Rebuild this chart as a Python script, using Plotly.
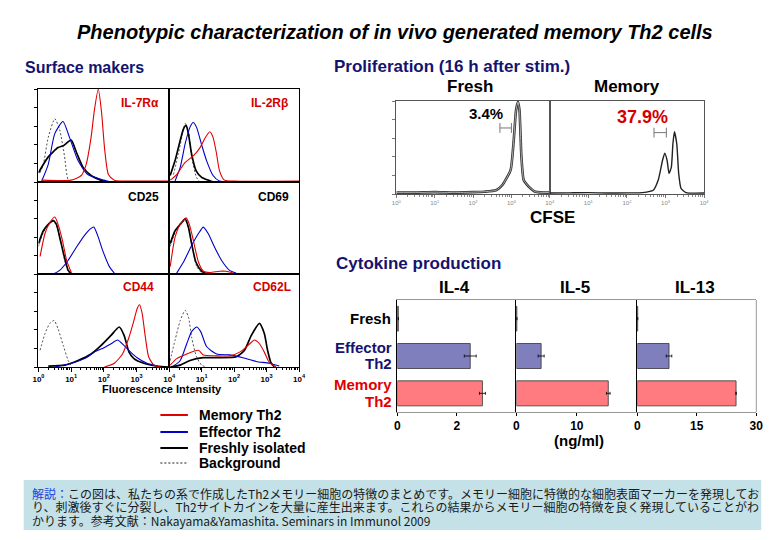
import numpy as np
import plotly.graph_objects as go

W, H = 780, 540
FONT = "Arial, Liberation Sans, Helvetica, sans-serif"
JP = "Noto Sans CJK JP, sans-serif"
NAVY = "#14146E"
RED_T = "#D40000"

# ---------------- Surface marker histograms (x = log10 fluorescence, y = relative count) ----------------
il7r_mem_x = [0.1, 1.0, 1.31, 1.46, 1.61, 1.71, 1.83, 1.93, 2.02, 2.14, 2.32, 3.0, 4.0]
il7r_mem_y = [0.02, 0.02, 0.07, 0.19, 0.48, 0.77, 1.0, 0.75, 0.37, 0.08, 0.02, 0.01, 0.01]
il7r_eff_x = [0.10, 0.30, 0.50, 0.75, 0.95, 1.21, 1.51, 2.0, 2.2]
il7r_eff_y = [0.01, 0.19, 0.52, 0.65, 0.48, 0.23, 0.08, 0.02, 0.0]
il7r_fre_x = [0.0, 0.30, 0.60, 0.76, 1.0, 1.16, 1.36, 1.61, 1.91, 2.1]
il7r_fre_y = [0.10, 0.27, 0.37, 0.39, 0.45, 0.32, 0.16, 0.07, 0.02, 0.0]
il7r_bg_x = [0.05, 0.15, 0.30, 0.50, 0.65, 0.80, 0.90, 1.0]
il7r_bg_y = [0.10, 0.19, 0.48, 0.68, 0.56, 0.27, 0.03, 0.0]

il2r_mem_x = [0.03, 0.23, 0.49, 0.74, 0.95, 1.10, 1.25, 1.35, 1.45, 1.55, 1.70, 2.0, 4.0]
il2r_mem_y = [0.02, 0.08, 0.21, 0.28, 0.37, 0.47, 0.54, 0.48, 0.32, 0.12, 0.02, 0.01, 0.01]
il2r_eff_x = [0.18, 0.34, 0.49, 0.64, 0.74, 0.84, 0.99, 1.15, 1.35, 1.55, 1.75]
il2r_eff_y = [0.01, 0.16, 0.41, 0.59, 0.64, 0.59, 0.41, 0.23, 0.07, 0.01, 0.0]
il2r_fre_x = [0.03, 0.18, 0.34, 0.44, 0.52, 0.59, 0.69, 0.83, 1.0, 1.2, 1.35]
il2r_fre_y = [0.07, 0.23, 0.45, 0.57, 0.61, 0.52, 0.30, 0.12, 0.05, 0.02, 0.0]
il2r_bg_x = [0.13, 0.28, 0.44, 0.49, 0.59, 0.69, 0.84, 0.95]
il2r_bg_y = [0.08, 0.30, 0.57, 0.63, 0.55, 0.27, 0.05, 0.0]

cd25_mem_x = [0.05, 0.20, 0.35, 0.50, 0.60, 0.73, 0.86, 1.01]
cd25_mem_y = [0.19, 0.44, 0.56, 0.62, 0.54, 0.37, 0.15, 0.01]
cd25_eff_x = [0.45, 0.65, 0.91, 1.16, 1.41, 1.59, 1.69, 1.81, 1.96, 2.17, 2.32]
cd25_eff_y = [0.0, 0.04, 0.15, 0.29, 0.42, 0.49, 0.51, 0.42, 0.26, 0.08, 0.01]
cd25_fre_x = [0.0, 0.15, 0.30, 0.45, 0.55, 0.65, 0.79, 0.91, 1.01]
cd25_fre_y = [0.33, 0.47, 0.54, 0.58, 0.54, 0.40, 0.19, 0.04, 0.0]
cd25_bg_x = [0.0, 0.15, 0.32, 0.47, 0.58, 0.68, 0.80, 0.92, 1.0]
cd25_bg_y = [0.30, 0.45, 0.55, 0.57, 0.50, 0.35, 0.15, 0.02, 0.0]

cd69_mem_x = [0.03, 0.18, 0.34, 0.52, 0.62, 0.74, 0.90, 1.05, 1.25, 1.55, 1.75, 1.96]
cd69_mem_y = [0.08, 0.40, 0.54, 0.61, 0.54, 0.37, 0.13, 0.03, 0.015, 0.03, 0.03, 0.01]
cd69_eff_x = [0.23, 0.44, 0.69, 0.90, 1.05, 1.20, 1.40, 1.61, 1.86, 2.06]
cd69_eff_y = [0.01, 0.13, 0.31, 0.44, 0.51, 0.44, 0.29, 0.15, 0.04, 0.01]
cd69_fre_x = [0.03, 0.18, 0.34, 0.49, 0.59, 0.69, 0.82, 1.0, 1.15]
cd69_fre_y = [0.33, 0.47, 0.54, 0.60, 0.51, 0.33, 0.13, 0.03, 0.0]
cd69_bg_x = [0.03, 0.20, 0.36, 0.50, 0.60, 0.72, 0.85, 1.0]
cd69_bg_y = [0.30, 0.47, 0.56, 0.58, 0.48, 0.28, 0.08, 0.01]

cd44_mem_x = [2.02, 2.32, 2.57, 2.77, 2.92, 3.02, 3.09, 3.17, 3.27, 3.37, 3.53, 3.73]
cd44_mem_y = [0.0, 0.04, 0.14, 0.32, 0.50, 0.63, 0.67, 0.58, 0.32, 0.11, 0.02, 0.0]
cd44_eff_x = [0.50, 1.01, 1.41, 1.71, 2.02, 2.22, 2.42, 2.62, 2.82, 3.02, 3.32, 3.63]
cd44_eff_y = [0.0, 0.04, 0.09, 0.16, 0.21, 0.25, 0.29, 0.23, 0.16, 0.10, 0.04, 0.01]
cd44_fre_x = [0.30, 0.81, 1.21, 1.61, 1.91, 2.22, 2.47, 2.62, 2.77, 2.92, 3.22, 3.63, 4.0]
cd44_fre_y = [0.01, 0.02, 0.07, 0.14, 0.23, 0.34, 0.43, 0.34, 0.16, 0.09, 0.04, 0.01, 0.0]
cd44_bg_x = [0.05, 0.20, 0.35, 0.48, 0.60, 0.76, 0.91, 1.01]
cd44_bg_y = [0.18, 0.36, 0.47, 0.50, 0.41, 0.23, 0.07, 0.01]

cd62l_mem_x = [0.03, 0.23, 0.54, 0.90, 1.05, 1.46, 1.87, 2.17, 2.42, 2.63, 2.78, 2.93, 3.08, 3.29]
cd62l_mem_y = [0.02, 0.09, 0.14, 0.18, 0.13, 0.12, 0.12, 0.16, 0.23, 0.29, 0.25, 0.16, 0.05, 0.0]
cd62l_eff_x = [0.13, 0.34, 0.54, 0.69, 0.84, 0.97, 1.15, 1.46, 1.87, 2.27, 2.68, 3.08, 3.39]
cd62l_eff_y = [0.01, 0.07, 0.25, 0.38, 0.43, 0.38, 0.22, 0.14, 0.13, 0.10, 0.06, 0.04, 0.01]
cd62l_fre_x = [0.03, 0.34, 0.64, 1.05, 1.56, 2.07, 2.32, 2.53, 2.78, 2.93, 3.03, 3.13, 3.24]
cd62l_fre_y = [0.0, 0.02, 0.07, 0.10, 0.10, 0.11, 0.18, 0.34, 0.47, 0.36, 0.18, 0.05, 0.0]
cd62l_bg_x = [0.03, 0.18, 0.34, 0.49, 0.59, 0.69, 0.84, 1.0, 1.15]
cd62l_bg_y = [0.07, 0.29, 0.50, 0.61, 0.54, 0.32, 0.11, 0.02, 0.0]

marker_labels = ["IL-7Rα", "IL-2Rβ", "CD25", "CD69", "CD44", "CD62L"]
series_names = ["Memory Th2", "Effector Th2", "Freshly isolated", "Background"]

# ---------------- CFSE proliferation ----------------
cfse_fresh_x = [0.0, 0.5, 1.0, 1.5, 2.0, 2.3, 2.6, 2.77, 2.98, 3.06, 3.12, 3.17, 3.21, 3.26, 3.32, 3.45, 3.62, 4.0]
cfse_fresh_y = [0.015, 0.015, 0.02, 0.015, 0.02, 0.025, 0.04, 0.10, 0.26, 0.58, 0.90, 0.99, 0.90, 0.40, 0.15, 0.08, 0.025, 0.015]
cfse_mem_x = [0.0, 0.5, 1.0, 1.5, 2.0, 2.4, 2.68, 2.81, 2.92, 2.98, 3.04, 3.09, 3.15, 3.19, 3.23, 3.29, 3.34, 3.40, 3.53, 4.0]
cfse_mem_y = [0.01, 0.012, 0.015, 0.01, 0.012, 0.015, 0.04, 0.15, 0.36, 0.44, 0.36, 0.22, 0.29, 0.54, 0.67, 0.54, 0.22, 0.06, 0.015, 0.01]
fresh_gate_x = [2.70, 3.00]
fresh_gate_y = [0.71, 0.71]
mem_gate_x = [2.70, 3.02]
mem_gate_y = [0.66, 0.66]
fresh_pct = "3.4%"
mem_pct = "37.9%"

# ---------------- Cytokine production (ng/ml) ----------------
cats = ["Fresh", "Effector Th2", "Memory Th2"]
il4_vals = [0.03, 2.45, 2.86]
il4_err = [0.0, 0.20, 0.10]
il5_vals = [0.08, 4.1, 15.2]
il5_err = [0.0, 0.5, 0.3]
il13_vals = [0.10, 8.0, 24.9]
il13_err = [0.0, 0.7, 0.0]
cyto_names = ["IL-4", "IL-5", "IL-13"]
cyto_ranges = [4, 20, 30]
cyto_ticks = [[0, 2], [0, 10], [0, 15, 30]]

# ---------------- helpers ----------------
def px(x):
    return x / W

def py(y):
    return 1 - y / H

layout = dict(width=W, height=H, margin=dict(l=0, r=0, t=0, b=0),
              paper_bgcolor="white", plot_bgcolor="rgba(0,0,0,0)", showlegend=False)
annotations = []
shapes = []
traces = []
count = [0]

def new_axes(x0, x1, y0, y1, xa, ya):
    count[0] += 1
    s = "" if count[0] == 1 else str(count[0])
    xa.update(domain=[px(x0), px(x1)], anchor="y" + s)
    ya.update(domain=[py(y1), py(y0)], anchor="x" + s)
    layout["xaxis" + s] = xa
    layout["yaxis" + s] = ya
    return "x" + s, "y" + s

def ann(text, x, y, size, color="black", xanchor="center", yanchor="middle",
        weight="bold", style="normal", family=FONT):
    annotations.append(dict(text=text, x=px(x), y=py(y), xref="paper", yref="paper",
                            xanchor=xanchor, yanchor=yanchor, showarrow=False, borderpad=0,
                            font=dict(size=size, color=color, family=family, weight=weight, style=style)))

MINOR = [n + np.log10(k) for n in range(4) for k in range(2, 10)]

# ---------------- flow histogram grid ----------------
COLS = [(33, 166), (166, 298)]
ROWS = [(89, 182), (182, 274), (274, 367)]
flow_curves = [
    [(il7r_mem_x, il7r_mem_y), (il7r_eff_x, il7r_eff_y), (il7r_fre_x, il7r_fre_y), (il7r_bg_x, il7r_bg_y)],
    [(il2r_mem_x, il2r_mem_y), (il2r_eff_x, il2r_eff_y), (il2r_fre_x, il2r_fre_y), (il2r_bg_x, il2r_bg_y)],
    [(cd25_mem_x, cd25_mem_y), (cd25_eff_x, cd25_eff_y), (cd25_fre_x, cd25_fre_y), (cd25_bg_x, cd25_bg_y)],
    [(cd69_mem_x, cd69_mem_y), (cd69_eff_x, cd69_eff_y), (cd69_fre_x, cd69_fre_y), (cd69_bg_x, cd69_bg_y)],
    [(cd44_mem_x, cd44_mem_y), (cd44_eff_x, cd44_eff_y), (cd44_fre_x, cd44_fre_y), (cd44_bg_x, cd44_bg_y)],
    [(cd62l_mem_x, cd62l_mem_y), (cd62l_eff_x, cd62l_eff_y), (cd62l_fre_x, cd62l_fre_y), (cd62l_bg_x, cd62l_bg_y)],
]
label_colors = [RED_T, RED_T, "black", "black", RED_T, RED_T]
label_pos = [(157, 103), (288, 103), (157, 197), (289, 197), (152, 287), (291, 287)]
line_styles = [
    dict(color="#E00000", width=1.1),
    dict(color="#0000C8", width=1.1),
    dict(color="black", width=1.7),
    dict(color="black", width=0.7, dash="2px,2px"),
]

for i, curves in enumerate(flow_curves):
    r, c = divmod(i, 2)
    x0, x1 = COLS[c]
    y0, y1 = ROWS[r]
    bottom = r == 2
    left = c == 0
    xa = dict(range=[0, 4], showline=True, mirror=True, linecolor="black", linewidth=1,
              showgrid=False, zeroline=False, fixedrange=True)
    if bottom:
        tv = [0, 1, 2, 3, 4] if left else [1, 2, 3, 4]
        xa.update(ticks="outside", ticklen=4, tickwidth=1, tickcolor="black",
                  tickmode="array", tickvals=tv, ticktext=[f"10<sup>{n}</sup>" for n in tv],
                  tickfont=dict(size=8, family=FONT, color="black", weight="bold"),
                  minor=dict(tickmode="array", tickvals=MINOR, ticks="outside", ticklen=2,
                             tickcolor="black", tickwidth=1))
    else:
        xa.update(showticklabels=False, ticks="")
    ya = dict(range=[0, 1.0], showline=True, mirror=True, linecolor="black", linewidth=1,
              showgrid=False, zeroline=False, showticklabels=False, fixedrange=True)
    if left:
        ya.update(ticks="outside", ticklen=3, tickwidth=1, tickcolor="black",
                  tickmode="array", tickvals=[0, 0.2, 0.4, 0.6, 0.8, 1.0])
    else:
        ya.update(ticks="")
    xr, yr = new_axes(x0, x1, y0, y1, xa, ya)
    for k in [3, 2, 1, 0]:
        cx, cy = curves[k]
        traces.append(go.Scatter(x=cx, y=cy, mode="lines", line=dict(shape="spline", smoothing=0.6, **line_styles[k]),
                                 xaxis=xr, yaxis=yr, name=series_names[k], hoverinfo="skip"))
    lx, ly = label_pos[i]
    ann(marker_labels[i], lx, ly, 12, label_colors[i], xanchor="right")

ann("Fluorescence Intensity", 159, 389, 11)

# legend drawn as sample lines + text
leg_y = [415, 432, 448, 463]
for k, yy in enumerate(leg_y):
    st = line_styles[k]
    shapes.append(dict(type="line", xref="paper", yref="paper", x0=px(157), x1=px(185), y0=py(yy), y1=py(yy),
                       line=dict(color=st["color"], width=2 if k < 3 else 0.9,
                                 dash=st.get("dash", "solid"))))
    ann(series_names[k], 195, yy, 14, "black", xanchor="left")

# ---------------- CFSE ----------------
cfse_panels = [(397, 553, cfse_fresh_x, cfse_fresh_y, fresh_gate_x, fresh_gate_y),
               (553, 710, cfse_mem_x, cfse_mem_y, mem_gate_x, mem_gate_y)]
for j, (x0, x1, cx, cy, gx, gy) in enumerate(cfse_panels):
    tv = [0, 1, 2, 3, 4] if j == 0 else [1, 2, 3, 4]
    xa = dict(range=[0, 4], showline=True, mirror=True, linecolor="#555", linewidth=1,
              showgrid=False, zeroline=False, ticks="outside", ticklen=3, tickcolor="#777",
              tickmode="array", tickvals=tv, ticktext=[f"10<sup>{n}</sup>" for n in tv],
              tickfont=dict(size=6, family=FONT, color="#888"),
              minor=dict(tickmode="array", tickvals=MINOR, ticks="outside", ticklen=1.5, tickcolor="#888"))
    ya = dict(range=[0, 1.0], showline=True, mirror=True, linecolor="#555", linewidth=1,
              showgrid=False, zeroline=False, showticklabels=False)
    if j == 0:
        ya.update(ticks="outside", ticklen=3, tickcolor="#777", tickmode="array",
                  tickvals=[0, 0.2, 0.4, 0.6, 0.8, 1.0])
    xr, yr = new_axes(x0, x1, 101, 194, xa, ya)
    if j == 0:
        traces.append(go.Scatter(x=cx, y=cy, mode="lines", line=dict(shape="spline", smoothing=0.5, color="#333", width=2.6),
                                 xaxis=xr, yaxis=yr, hoverinfo="skip"))
        traces.append(go.Scatter(x=cx, y=cy, mode="lines", line=dict(shape="spline", smoothing=0.5, color="#bbb", width=0.9),
                                 xaxis=xr, yaxis=yr, hoverinfo="skip"))
    else:
        traces.append(go.Scatter(x=cx, y=cy, mode="lines", line=dict(shape="spline", smoothing=0.5, color="#222", width=1.4),
                                 xaxis=xr, yaxis=yr, hoverinfo="skip"))
    traces.append(go.Scatter(x=gx, y=gy, mode="lines+markers", line=dict(color="#777", width=1),
                             marker=dict(symbol="line-ns", size=7, line=dict(color="#777", width=1)),
                             xaxis=xr, yaxis=yr, hoverinfo="skip"))

ann("Fresh", 472, 87, 17)
ann("Memory", 632, 87, 17)
ann(fresh_pct, 488, 113, 15)
ann(mem_pct, 647, 117, 18, RED_T)
ann("CFSE", 556, 218, 17)

# ---------------- Cytokine bars ----------------
bar_colors = ["#222222", "#7F7FBD", "#FF7B80"]
cyto_x = [(398, 519), (519, 642), (642, 763)]
cyto_vals = [(il4_vals, il4_err), (il5_vals, il5_err), (il13_vals, il13_err)]
for j, ((x0, x1), (vals, errs)) in enumerate(zip(cyto_x, cyto_vals)):
    xa = dict(range=[0, cyto_ranges[j]], showline=True, mirror=True, linecolor="#999", linewidth=1,
              showgrid=False, zeroline=False, ticks="outside", ticklen=3, tickcolor="black",
              tickmode="array", tickvals=cyto_ticks[j],
              tickfont=dict(size=12, family=FONT, color="black", weight="bold"))
    ya = dict(type="category", categoryorder="array", categoryarray=cats, range=[2.5, -0.5],
              showline=True, linecolor="black", linewidth=1.2, showgrid=False, zeroline=False,
              showticklabels=False, ticks="")
    xr, yr = new_axes(x0, x1, 300, 412, xa, ya)
    traces.append(go.Bar(x=vals, y=cats, orientation="h", width=0.67,
                         marker=dict(color=bar_colors, line=dict(color="#333", width=0.8)),
                         error_x=dict(type="data", array=errs, color="black", thickness=0.8, width=1.5),
                         xaxis=xr, yaxis=yr, hoverinfo="skip"))
    ann(cyto_names[j], (x0 + x1) / 2 - 2, 287, 17)

shapes.append(dict(type="line", xref="paper", yref="paper", x0=px(763), x1=px(763), y0=py(300), y1=py(412),
                   line=dict(color="#999", width=1)))

ann("Fresh", 393, 318, 15, "black", xanchor="right")
ann("Effector", 394, 347, 15, NAVY, xanchor="right")
ann("Th2", 394, 363, 15, NAVY, xanchor="right")
ann("Memory", 394, 385, 15, "#E00000", xanchor="right")
ann("Th2", 394, 401, 15, "#E00000", xanchor="right")
ann("(ng/ml)", 583, 440, 15)

# ---------------- titles ----------------
ann("Phenotypic characterization of in vivo generated memory Th2 cells", 396, 32, 20, style="italic")
ann("Surface makers", 18, 68, 16, NAVY, xanchor="left")
ann("Proliferation (16 h after stim.)", 333, 66, 17, NAVY, xanchor="left")
ann("Cytokine production", 335, 263, 17, NAVY, xanchor="left")

# ---------------- bottom note ----------------
shapes.append(dict(type="rect", xref="paper", yref="paper", x0=px(18), x1=px(768), y0=py(530), y1=py(480),
                   fillcolor="#C3E1E6", line=dict(width=0), layer="below"))
note1 = ('<span style="color:#1E3FE0">解説：</span>この図は、私たちの系で作成したTh2メモリー細胞の特徴のまとめです。'
         'メモリー細胞に特徴的な細胞表面マーカーを発現してお')
note2 = 'り、刺激後すぐに分裂し、Th2サイトカインを大量に産生出来ます。これらの結果からメモリー細胞の特徴を良く発現していることがわ'
note3 = 'かります。参考文献：Nakayama&amp;Yamashita. Seminars in Immunol 2009'
for t, yy in zip([note1, note2, note3], [493, 506.5, 520]):
    ann(t, 25, yy, 12, "#1a1a1a", xanchor="left", weight="normal", family=JP)

layout["annotations"] = annotations
layout["shapes"] = shapes
fig = go.Figure(data=traces, layout=layout)
fig.write_html("out.html", config={"displayModeBar": False, "staticPlot": True},
               post_script="document.body.style.margin='0px';document.body.style.overflow='hidden';")
